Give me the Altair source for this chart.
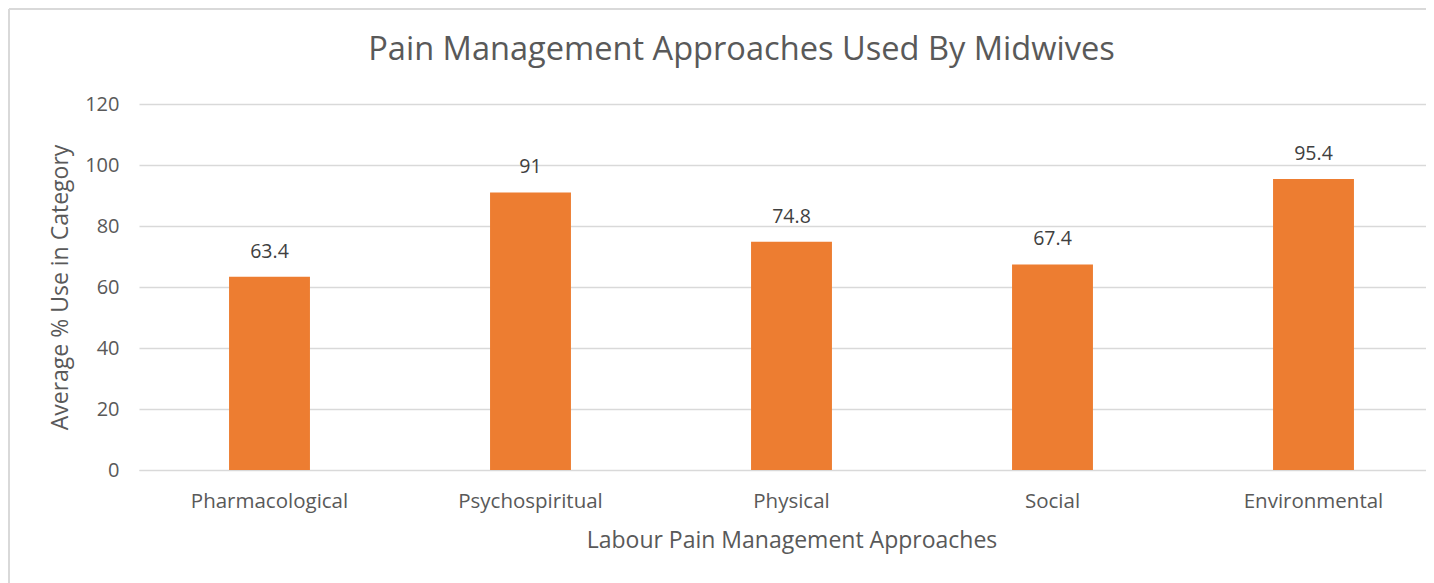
import altair as alt
import pandas as pd

categories = ["Pharmacological", "Psychospiritual", "Physical", "Social", "Environmental"]
values = [63.4, 91, 74.8, 67.4, 95.4]

df = pd.DataFrame({"cat": categories, "val": values})

FONT = "Open Sans"
GREY = "#595959"
BORDER = "#D9D9D9"

x = alt.X("cat:N", sort=categories, title="Labour Pain Management Approaches",
          scale=alt.Scale(paddingInner=0.69, paddingOuter=0.345),
          axis=alt.Axis(labelAngle=0, labelFontSize=20.5, labelColor=GREY, labelPadding=21,
                        titleFontSize=23, titleColor=GREY, titleFontWeight="normal",
                        titlePadding=18, domainColor=BORDER, ticks=False, grid=False))
y = alt.Y("val:Q", title="Average % Use in Category",
          scale=alt.Scale(domain=[0, 120]),
          axis=alt.Axis(values=[0, 20, 40, 60, 80, 100, 120], labelFontSize=20, labelColor=GREY,
                        labelPadding=20, titleFontSize=23, titleColor=GREY,
                        titleFontWeight="normal", titlePadding=12, domain=False, ticks=False,
                        gridColor=BORDER, gridWidth=1.3))

bars = alt.Chart(df).mark_bar(color="#ED7D31").encode(x=x, y=y)
labels = alt.Chart(df).mark_text(dy=-25, fontSize=19.5, color="#404040", font=FONT).encode(
    x=alt.X("cat:N", sort=categories), y="val:Q", text="val:Q")

# decorative chart-area border (left and top edges; the others lie outside the picture)
frame_df = pd.DataFrame({"k": [0]})
frame_left = alt.Chart(frame_df).mark_rule(color=BORDER, strokeWidth=2, clip=False).encode(
    x=alt.value(-130), y=alt.value(-95), y2=alt.value(500))
frame_top = alt.Chart(frame_df).mark_rule(color=BORDER, strokeWidth=2, clip=False).encode(
    y=alt.value(-95), x=alt.value(-130), x2=alt.value(1300))

chart = alt.layer(frame_left, frame_top, bars, labels).properties(
    width=1305, height=366,
    title=alt.TitleParams("Pain Management Approaches Used By Midwives", fontSize=32.6,
                          color=GREY, fontWeight="normal", font=FONT, anchor="middle",
                          offset=-59, dx=-50),
    autosize=alt.AutoSizeParams(type="none"),
    padding={"left": 131, "top": 96, "right": -18, "bottom": 125},
).configure(font=FONT).configure_view(stroke=None)

chart.save("out.html", embed_options={"renderer": "svg", "actions": False})
